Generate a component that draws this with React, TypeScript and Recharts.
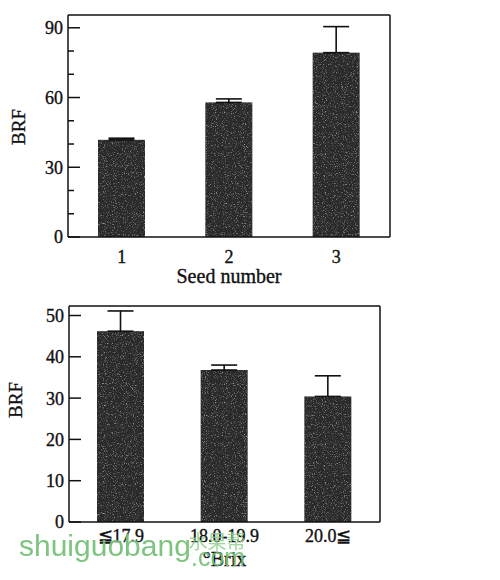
import React from 'react';
import { BarChart, Bar, XAxis, YAxis, ErrorBar } from 'recharts';

// Seed number panel
const seedLabels = ['1', '2', '3'];
const seedBrf = [41.8, 57.9, 79.3];
const seedErr = [0.7, 1.5, 11.2];
const seedTicks = [0, 10, 20, 30, 40, 50, 60, 70, 80, 90];

// Brix panel
const brixLabels = ['≦17.9', '18.0-19.9', '20.0≦'];
const brixBrf = [46.2, 36.8, 30.4];
const brixErr = [4.9, 1.2, 5.0];
const brixTicks = [0, 10, 20, 30, 40, 50];

const seedData = seedLabels.map((label, i) => ({ label, brf: seedBrf[i], err: [0, seedErr[i]] }));
const brixData = brixLabels.map((label, i) => ({ label, brf: brixBrf[i], err: [0, brixErr[i]] }));

const FONT = '"Liberation Serif", "DejaVu Serif", serif';
const INK = '#111';
// a thin outline makes the serif text a little heavier
const textStyle = { fontFamily: FONT, fill: INK, stroke: INK, strokeWidth: 0.35 };

// grainy dark fill for the bars
const GrainDefs = () => (
  <svg width={0} height={0} style={{ position: 'absolute' }}>
    <defs>
      <filter id="grain" x="0" y="0" width="100%" height="100%">
        <feTurbulence type="fractalNoise" baseFrequency="0.9" numOctaves={2} seed={7} />
        <feColorMatrix
          type="matrix"
          values="0 0 0 0 1  0 0 0 0 1  0 0 0 0 1  3.2 0 0 0 -1.75"
        />
        <feComposite in2="SourceAlpha" operator="in" />
      </filter>
    </defs>
  </svg>
);

const GrainBar = (props: any) => {
  const { x, y, width, height } = props;
  if (!height || height <= 0) return null;
  return (
    <g>
      <rect x={x} y={y} width={width} height={height} fill="#2a2a2a" />
      <rect x={x} y={y} width={width} height={height} fill="#000" filter="url(#grain)" opacity={0.55} />
    </g>
  );
};

const NoTick = () => <g />;

// y ticks are drawn inward from the axis line; labelEvery controls which get numbers
const makeYTick = (labelEvery: number) => (props: any) => {
  const { x, y, payload } = props;
  const axisX = x + 5;
  const major = payload.value % labelEvery === 0;
  return (
    <g>
      <line x1={axisX} x2={axisX + (major ? 12 : 6)} y1={y} y2={y} stroke={INK} strokeWidth={1.5} />
      {major && (
        <text x={x} y={y} dy="0.36em" textAnchor="end" fontSize={18} {...textStyle}>
          {payload.value}
        </text>
      )}
    </g>
  );
};

const yTitle = (cx: number, cy: number) => () => (
  <text
    x={cx}
    y={cy}
    transform={`rotate(-90, ${cx}, ${cy})`}
    textAnchor="middle"
    dominantBaseline="central"
    fontSize={19}
    {...textStyle}
  >
    BRF
  </text>
);

const axisLine = { stroke: INK, strokeWidth: 1.5 };

export default function App() {
  return (
    <div style={{ position: 'absolute', left: 0, top: 0, width: 500, height: 580, background: '#fff' }}>
      <GrainDefs />

      <div style={{ position: 'absolute', left: 0, top: 0 }}>
        <BarChart width={400} height={290} data={seedData} margin={{ top: 14, right: 9, left: 0, bottom: 0 }}>
          <XAxis
            dataKey="label"
            height={53}
            tickLine={false}
            tickSize={0}
            tickMargin={13}
            axisLine={axisLine}
            tick={{ fontSize: 18, ...textStyle }}
            label={{ value: 'Seed number', position: 'insideBottom', offset: 7, fontSize: 20, ...textStyle }}
          />
          {/* top and right edges of the frame */}
          <XAxis xAxisId="frame" dataKey="label" orientation="top" height={1} tick={NoTick} tickLine={false} axisLine={axisLine} />
          <YAxis
            width={68}
            domain={[0, 95.5]}
            ticks={seedTicks}
            interval={0}
            tickLine={false}
            tickSize={0}
            tickMargin={5}
            axisLine={axisLine}
            tick={makeYTick(30)}
            label={{ content: yTitle(18, 127) }}
          />
          <YAxis yAxisId="frame" orientation="right" width={1} domain={[0, 95.5]} tick={NoTick} tickLine={false} axisLine={axisLine} />
          <Bar dataKey="brf" barSize={47} shape={GrainBar} isAnimationActive={false}>
            <ErrorBar dataKey="err" width={13} stroke={INK} strokeWidth={1.6} isAnimationActive={false} />
          </Bar>
        </BarChart>
      </div>

      <div style={{ position: 'absolute', left: 0, top: 290 }}>
        <BarChart width={400} height={290} data={brixData} margin={{ top: 15, right: 19, left: 0, bottom: 0 }}>
          <XAxis
            dataKey="label"
            height={58}
            tickLine={false}
            tickSize={0}
            tickMargin={7}
            axisLine={axisLine}
            tick={{ fontSize: 18, ...textStyle }}
            label={{ value: '°Brix', position: 'insideBottom', offset: 14, fontSize: 20, ...textStyle }}
          />
          <XAxis xAxisId="frame" dataKey="label" orientation="top" height={1} tick={NoTick} tickLine={false} axisLine={axisLine} />
          <YAxis
            width={69}
            domain={[0, 52.3]}
            ticks={brixTicks}
            interval={0}
            tickLine={false}
            tickSize={0}
            tickMargin={5}
            axisLine={axisLine}
            tick={makeYTick(10)}
            label={{ content: yTitle(15, 110) }}
          />
          <YAxis yAxisId="frame" orientation="right" width={1} domain={[0, 52.3]} tick={NoTick} tickLine={false} axisLine={axisLine} />
          <Bar dataKey="brf" barSize={47} shape={GrainBar} isAnimationActive={false}>
            <ErrorBar dataKey="err" width={13} stroke={INK} strokeWidth={1.6} isAnimationActive={false} />
          </Bar>
        </BarChart>
      </div>

      {/* site watermark */}
      <div style={{ position: 'absolute', left: 0, top: 0, width: 500, height: 580, pointerEvents: 'none' }}>
        <svg width={500} height={580}>
          <text x={19} y={556} fontFamily='"Liberation Sans", Arial, sans-serif' fontSize={30} fill="#72bf74" opacity={0.92}>
            shuiguobang
          </text>
          <text x={217} y={549} textAnchor="middle" fontFamily='"Noto Sans CJK SC", sans-serif' fontSize={19} fill="#8fd090" opacity={0.85}>
            水果帮
          </text>
          <text x={191} y={566} fontFamily='"Liberation Sans", Arial, sans-serif' fontSize={25} fill="#72bf74" opacity={0.92}>
            .com
          </text>
        </svg>
      </div>
    </div>
  );
}
